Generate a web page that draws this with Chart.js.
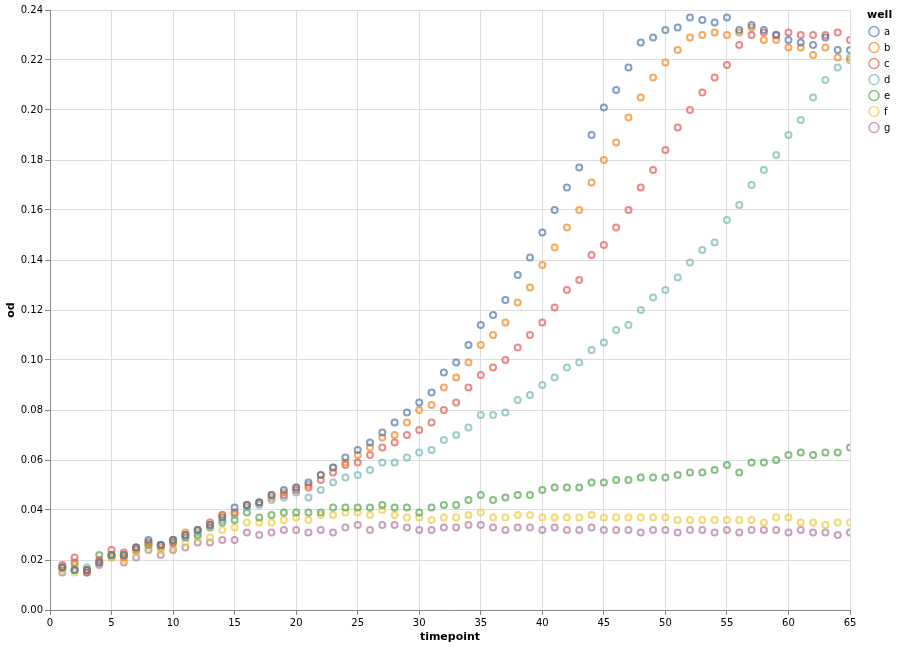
<!DOCTYPE html>
<html><head><meta charset="utf-8">
<script src="https://cdn.jsdelivr.net/npm/chart.js@4/dist/chart.umd.min.js"></script>
<style>html,body{margin:0;padding:0;background:#fff}#wrap{width:899px;height:647px}</style>
</head><body>
<div id="wrap"><canvas id="c" width="899" height="647"></canvas></div>
<script>
const timepoints = Array.from({length: 65}, (_, i) => i + 1);
const wells = ['a', 'b', 'c', 'd', 'e', 'f', 'g'];
const wellColors = ['#4c78a8', '#f58518', '#e45756', '#72b7b2', '#54a24b', '#eeca3b', '#b279a2'];
const yTicks = [0, 0.02, 0.04, 0.06, 0.08, 0.10, 0.12, 0.14, 0.16, 0.18, 0.20, 0.22, 0.24];

const odA = [0.017,0.016,0.016,0.019,0.022,0.022,0.025,0.028,0.026,0.028,
  0.030,0.032,0.034,0.037,0.041,0.042,0.043,0.046,0.048,0.049,
  0.051,0.054,0.057,0.061,0.064,0.067,0.071,0.075,0.079,0.083,
  0.087,0.095,0.099,0.106,0.114,0.118,0.124,0.134,0.141,0.151,
  0.160,0.169,0.177,0.190,0.201,0.208,0.217,0.227,0.229,0.232,
  0.233,0.237,0.236,0.235,0.237,0.232,0.234,0.232,0.230,0.228,
  0.227,0.226,0.229,0.224,0.224];
const odB = [0.017,0.018,0.016,0.019,0.022,0.021,0.024,0.027,0.025,0.028,
  0.031,0.032,0.034,0.038,0.039,0.042,0.043,0.045,0.047,0.049,
  0.050,0.054,0.057,0.059,0.062,0.065,0.069,0.070,0.075,0.080,
  0.082,0.089,0.093,0.099,0.106,0.110,0.115,0.123,0.129,0.138,
  0.145,0.153,0.160,0.171,0.180,0.187,0.197,0.205,0.213,0.219,
  0.224,0.229,0.230,0.231,0.230,0.231,0.233,0.228,0.228,0.225,
  0.225,0.222,0.225,0.221,0.220];
const odC = [0.018,0.021,0.015,0.020,0.024,0.023,0.025,0.027,0.026,0.027,
  0.030,0.032,0.035,0.038,0.039,0.042,0.043,0.046,0.046,0.048,
  0.049,0.052,0.055,0.058,0.059,0.062,0.065,0.067,0.070,0.072,
  0.075,0.080,0.083,0.089,0.094,0.097,0.100,0.105,0.110,0.115,
  0.121,0.128,0.132,0.142,0.146,0.153,0.160,0.169,0.176,0.184,
  0.193,0.200,0.207,0.213,0.218,0.226,0.230,0.231,0.230,0.231,
  0.230,0.230,0.230,0.231,0.228];
const odD = [0.017,0.016,0.017,0.019,0.022,0.022,0.024,0.026,0.026,0.027,
  0.029,0.031,0.034,0.036,0.038,0.041,0.042,0.044,0.045,0.047,
  0.045,0.048,0.051,0.053,0.054,0.056,0.059,0.059,0.061,0.063,
  0.064,0.068,0.070,0.073,0.078,0.078,0.079,0.084,0.086,0.090,
  0.093,0.097,0.099,0.104,0.107,0.112,0.114,0.120,0.125,0.128,
  0.133,0.139,0.144,0.147,0.156,0.162,0.170,0.176,0.182,0.190,
  0.196,0.205,0.212,0.217,0.221];
const odE = [0.017,0.019,0.016,0.022,0.022,0.022,0.025,0.026,0.026,0.028,
  0.029,0.030,0.033,0.035,0.036,0.039,0.037,0.038,0.039,0.039,
  0.039,0.039,0.041,0.041,0.041,0.041,0.042,0.041,0.041,0.039,
  0.041,0.042,0.042,0.044,0.046,0.044,0.045,0.046,0.046,0.048,
  0.049,0.049,0.049,0.051,0.051,0.052,0.052,0.053,0.053,0.053,
  0.054,0.055,0.055,0.056,0.058,0.055,0.059,0.059,0.060,0.062,
  0.063,0.062,0.063,0.063,0.065];
const odF = [0.016,0.015,0.016,0.019,0.021,0.020,0.023,0.025,0.024,0.025,
  0.027,0.029,0.029,0.032,0.033,0.035,0.035,0.035,0.036,0.037,
  0.036,0.038,0.038,0.039,0.039,0.038,0.040,0.038,0.037,0.037,
  0.036,0.037,0.037,0.038,0.039,0.037,0.037,0.038,0.038,0.037,
  0.037,0.037,0.037,0.038,0.037,0.037,0.037,0.037,0.037,0.037,
  0.036,0.036,0.036,0.036,0.036,0.036,0.036,0.035,0.037,0.037,
  0.035,0.035,0.034,0.035,0.035];
const odG = [0.015,0.016,0.015,0.018,0.021,0.019,0.021,0.024,0.022,0.024,
  0.025,0.027,0.027,0.028,0.028,0.031,0.030,0.031,0.032,0.032,
  0.031,0.032,0.031,0.033,0.034,0.032,0.034,0.034,0.033,0.032,
  0.032,0.033,0.033,0.034,0.034,0.033,0.032,0.033,0.033,0.032,
  0.033,0.032,0.032,0.033,0.032,0.032,0.032,0.031,0.032,0.032,
  0.031,0.032,0.032,0.031,0.032,0.031,0.032,0.032,0.032,0.031,
  0.032,0.031,0.031,0.030,0.031];

const seriesValues = [odA, odB, odC, odD, odE, odF, odG];

function hexA(hex, a) {
  const n = parseInt(hex.slice(1), 16);
  return `rgba(${(n>>16)&255},${(n>>8)&255},${n&255},${a})`;
}

const datasets = wells.map((w, i) => ({
  label: w,
  data: timepoints.map((t, j) => ({x: t, y: seriesValues[i][j]})),
  borderColor: hexA(wellColors[i], 0.7),
  backgroundColor: 'rgba(0,0,0,0)',
  borderWidth: 2,
  pointRadius: 3,
  pointHoverRadius: 3,
  showLine: false
}));

const FONT = 'DejaVu Sans, sans-serif';

const legendPlugin = {
  id: 'vegaLegend',
  afterDraw(chart) {
    const ctx = chart.ctx;
    ctx.save();
    ctx.fillStyle = '#000';
    ctx.font = `bold 11px ${FONT}`;
    ctx.textBaseline = 'middle';
    ctx.textAlign = 'left';
    ctx.fillText('well', 867, 15);
    ctx.font = `10px ${FONT}`;
    wells.forEach((w, i) => {
      const cy = 31.5 + i * 16;
      ctx.beginPath();
      ctx.arc(874, cy, 5, 0, Math.PI * 2);
      ctx.strokeStyle = hexA(wellColors[i], 0.7);
      ctx.lineWidth = 1.5;
      ctx.stroke();
      ctx.fillStyle = '#000';
      ctx.fillText(w, 884, cy + 0.5);
    });
    ctx.restore();
  }
};

new Chart(document.getElementById('c'), {
  type: 'scatter',
  data: { datasets },
  plugins: [legendPlugin],
  options: {
    responsive: false,
    animation: false,
    layout: { padding: { left: 0, right: 49, top: 10, bottom: 0 } },
    plugins: { legend: { display: false }, tooltip: { enabled: false } },
    scales: {
      x: {
        type: 'linear', min: 0, max: 65,
        afterFit: s => { s.height = 37; },
        ticks: { stepSize: 5, color: '#000', font: { family: FONT, size: 10 }, padding: 2, maxRotation: 0 },
        grid: { color: '#ddd', tickColor: '#888', tickLength: 5 },
        border: { color: '#888' },
        title: { display: true, text: 'timepoint', color: '#000', font: { family: FONT, size: 11, weight: 'bold' }, padding: { top: 0, bottom: 3 } }
      },
      y: {
        type: 'linear', min: 0, max: 0.24,
        afterFit: s => { s.width = 50; },
        afterBuildTicks: s => { s.ticks = yTicks.map(v => ({ value: v })); },
        ticks: { color: '#000', font: { family: FONT, size: 10 }, padding: 2, callback: v => Number(v).toFixed(2) },
        grid: { color: '#ddd', tickColor: '#888', tickLength: 5 },
        border: { color: '#888' },
        title: { display: true, text: 'od', color: '#000', font: { family: FONT, size: 11, weight: 'bold' }, padding: { top: 5, bottom: 0 } }
      }
    }
  }
});
</script>
</body></html>
